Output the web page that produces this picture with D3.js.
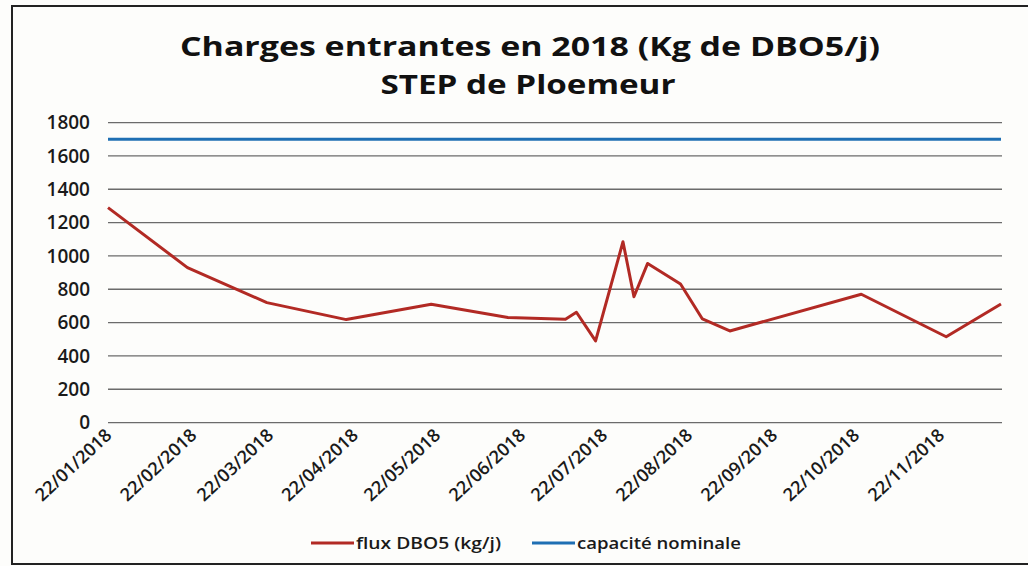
<!DOCTYPE html>
<html>
<head>
<meta charset="utf-8">
<script src="https://cdn.jsdelivr.net/npm/d3@7"></script>
<style>
  body { margin: 0; background: #fdfdfb; }
  svg { display: block; }
</style>
</head>
<body>
<div id="chart-area"></div>
<script>
// Data
var fluxDates = ["2018-01-22", "2018-02-20", "2018-03-21", "2018-04-19", "2018-05-20",
	"2018-06-17", "2018-07-08", "2018-07-12", "2018-07-19", "2018-07-29", "2018-08-02",
	"2018-08-07", "2018-08-19", "2018-08-27", "2018-09-06", "2018-10-24", "2018-11-24",
	"2018-12-14"];
var fluxValues = [1290, 930, 720, 618, 710, 630, 620, 662, 490, 1085, 755,
	955, 832, 622, 550, 770, 515, 712];
var capacite = 1700;
var tickDates = ["22/01/2018", "22/02/2018", "22/03/2018", "22/04/2018", "22/05/2018",
	"22/06/2018", "22/07/2018", "22/08/2018", "22/09/2018", "22/10/2018", "22/11/2018"];
var yTicks = [0, 200, 400, 600, 800, 1000, 1200, 1400, 1600, 1800];

var parseIso = d3.timeParse("%Y-%m-%d");
var parseFr = d3.timeParse("%d/%m/%Y");
var data = fluxDates.map((d, i) => ({ date: parseIso(d), value: fluxValues[i] }));

var W = 1028, H = 566;
var svg = d3.select("#chart-area")
	.append("svg")
		.attr("width", W)
		.attr("height", H);

// frame of the chart (right edge is cut off in the scan)
svg.append("path")
	.attr("d", "M1030,6 H12 V564 H1030")
	.attr("fill", "none")
	.attr("stroke", "#222")
	.attr("stroke-width", 2);

var x = d3.scaleTime()
	.domain(d3.extent(data, d => d.date))
	.range([108, 1001]);

var y = d3.scaleLinear()
	.domain([0, 1800])
	.range([422.6, 122.6]);

// gridlines
svg.append("g")
	.selectAll("line")
	.data(yTicks)
	.enter()
	.append("line")
		.attr("x1", 108)
		.attr("x2", 1002)
		.attr("y1", d => y(d))
		.attr("y2", d => y(d))
		.attr("stroke", "#6b6b6b")
		.attr("stroke-width", 1.3);

// y axis labels
var yAxis = svg.append("g")
	.attr("transform", "translate(100,0)")
	.call(d3.axisLeft(y)
		.tickValues(yTicks)
		.tickFormat(d3.format("d"))
		.tickSize(0)
		.tickPadding(10));
yAxis.select(".domain").remove();
yAxis.selectAll("text")
	.attr("font-family", "'Open Sans', sans-serif")
	.attr("font-size", 19)
	.attr("font-weight", 600)
	.attr("fill", "#1a1a1a");

// x axis labels, rotated
var xAxis = svg.append("g")
	.attr("transform", "translate(0,426)")
	.call(d3.axisBottom(x)
		.tickValues(tickDates.map(parseFr))
		.tickFormat(d3.timeFormat("%d/%m/%Y"))
		.tickSize(0));
xAxis.select(".domain").remove();
xAxis.selectAll("text")
	.attr("font-family", "'Open Sans', sans-serif")
	.attr("font-size", 18)
	.attr("font-weight", 600)
	.attr("fill", "#1a1a1a")
	.attr("text-anchor", "end")
	.attr("dy", "0.35em")
	.attr("y", 0)
	.attr("transform", "translate(0,6) rotate(-43)");

// capacity line
svg.append("line")
	.attr("x1", x.range()[0])
	.attr("x2", x.range()[1])
	.attr("y1", y(capacite))
	.attr("y2", y(capacite))
	.attr("stroke", "#1f6fb3")
	.attr("stroke-width", 3);

// flux line
var line = d3.line()
	.x(d => x(d.date))
	.y(d => y(d.value));

svg.append("path")
	.datum(data)
	.attr("d", line)
	.attr("fill", "none")
	.attr("stroke", "#b22a24")
	.attr("stroke-width", 3)
	.attr("stroke-linejoin", "round");

// title (the scan is stretched sideways, so widths are forced)
var title = svg.append("text")
	.attr("text-anchor", "middle")
	.attr("font-family", "'Open Sans', sans-serif")
	.attr("font-weight", 700)
	.attr("font-size", 27)
	.attr("fill", "#111");
title.append("tspan").attr("x", 530).attr("y", 56)
	.attr("textLength", 700).attr("lengthAdjust", "spacingAndGlyphs")
	.text("Charges entrantes en 2018 (Kg de DBO5/j)");
title.append("tspan").attr("x", 528).attr("y", 94)
	.attr("textLength", 295).attr("lengthAdjust", "spacingAndGlyphs")
	.text("STEP de Ploemeur");

// legend
var legend = [
	{ label: "flux DBO5 (kg/j)", color: "#b22a24", x: 311, w: 145 },
	{ label: "capacité nominale", color: "#1f6fb3", x: 532, w: 164 }
];
var lg = svg.append("g").selectAll("g")
	.data(legend)
	.enter()
	.append("g")
		.attr("transform", d => `translate(${d.x},543)`);
lg.append("line")
	.attr("x1", 0).attr("x2", 43)
	.attr("stroke", d => d.color)
	.attr("stroke-width", 3);
lg.append("text")
	.attr("x", 45)
	.attr("dy", "0.35em")
	.attr("font-family", "'Open Sans', sans-serif")
	.attr("font-size", 17)
	.attr("font-weight", 600)
	.attr("fill", "#1a1a1a")
	.attr("textLength", d => d.w)
	.attr("lengthAdjust", "spacingAndGlyphs")
	.text(d => d.label);
</script>
</body>
</html>
